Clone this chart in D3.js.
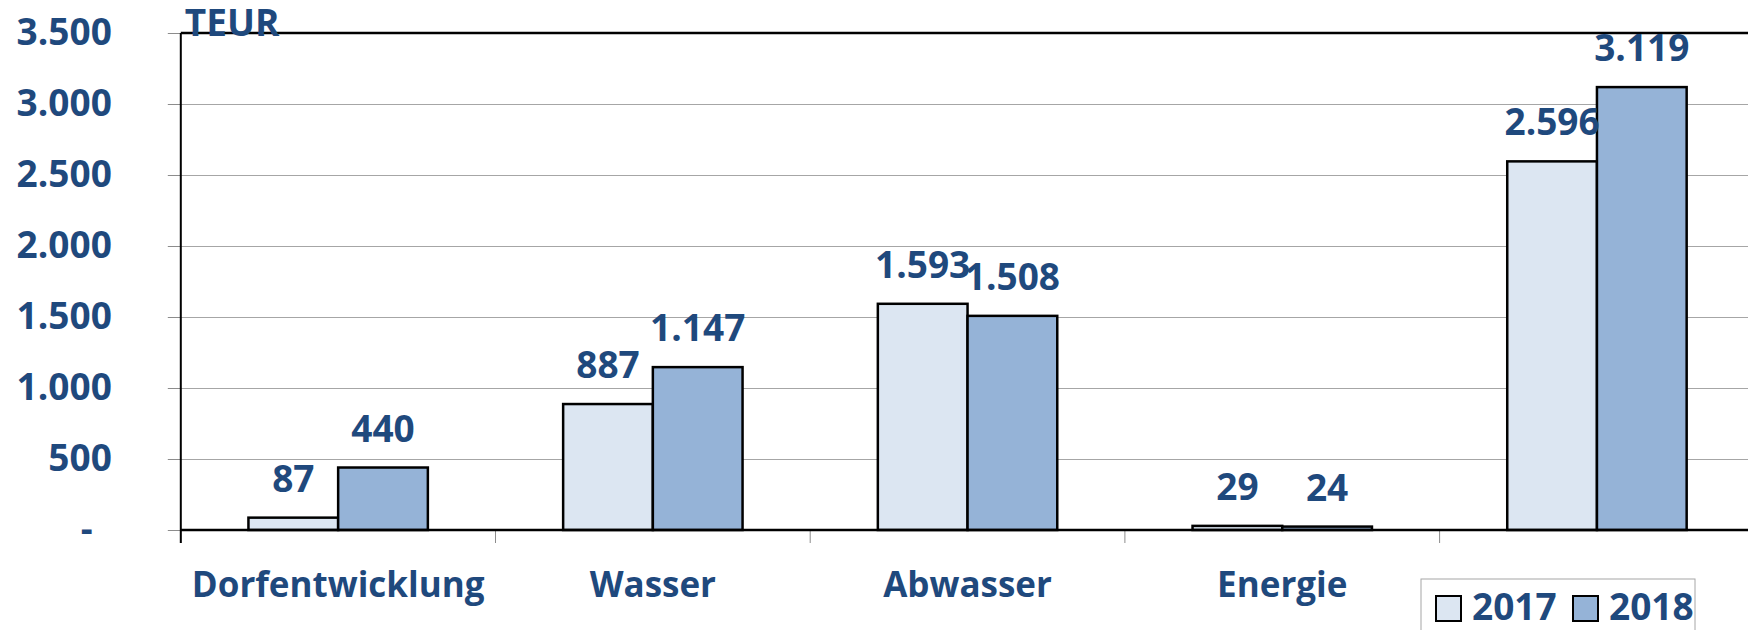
<!DOCTYPE html>
<html>
<head>
<meta charset="utf-8">
<script src="https://cdn.jsdelivr.net/npm/d3@7"></script>
<style>
  html, body { margin: 0; padding: 0; background: #fff; }
  svg { display: block; }
  text { font-family: "Open Sans", "Noto Sans", sans-serif; font-weight: 700; fill: #1F497D; }
</style>
</head>
<body>
<svg id="chart" width="1748" height="630"></svg>
<script>
// ---- data ----
const categories = ["Dorfentwicklung", "Wasser", "Abwasser", "Energie", ""];
const series = ["2017", "2018"];
const values2017 = [87, 887, 1593, 29, 2596];
const values2018 = [440, 1147, 1508, 24, 3119];
const yTicks = [0, 500, 1000, 1500, 2000, 2500, 3000, 3500];
const unitLabel = "TEUR";

(function () {
// ---- layout ----
const plotLeft = 180.8, plotRight = 1754.3, plotTop = 33, plotBottom = 530;
const colors = { "2017": "#DCE6F2", "2018": "#95B3D7" };
const textColor = "#1F497D";
const fontSize = 37;

const de = d3.formatLocale({ decimal: ",", thousands: ".", grouping: [3], currency: ["", " €"] });
const fmt = de.format(",d");

const svg = d3.select("#chart");

const x = d3.scaleBand().domain(categories).range([plotLeft, plotRight]).paddingInner(0).paddingOuter(0);
const xs = d3.scaleBand().domain(series).range([0, x.bandwidth()]).paddingInner(0).paddingOuter(0.754);
const y = d3.scaleLinear().domain([0, 3500]).range([plotBottom, plotTop]);

const rows = categories.map((c, i) => ({ cat: c, vals: [
  { s: "2017", v: values2017[i] },
  { s: "2018", v: values2018[i] }
]}));

// gridlines
svg.append("g")
  .attr("transform", `translate(${plotLeft},0)`)
  .call(d3.axisLeft(y).tickValues(yTicks).tickSize(-(plotRight - plotLeft)).tickFormat(""))
  .call(g => g.select(".domain").remove())
  .call(g => g.selectAll(".tick line").attr("stroke", "#A6A6A6").attr("stroke-width", 1));

// y axis with ticks and labels
const yAxis = svg.append("g")
  .attr("transform", `translate(${plotLeft},0)`)
  .call(d3.axisLeft(y).tickValues(yTicks).tickSize(13).tickPadding(56).tickSizeOuter(0)
    .tickFormat(d => d === 0 ? "-\u00a0\u00a0" : fmt(d)));
yAxis.select(".domain").remove();
yAxis.selectAll(".tick line").attr("stroke", "#8C8C8C").attr("stroke-width", 1);
yAxis.selectAll(".tick text")
  .attr("fill", textColor)
  .style("font-size", fontSize + "px")
  .style("font-family", '"Open Sans", "Noto Sans", sans-serif')
  .style("font-weight", 700);

// top border of plot area
svg.append("line")
  .attr("x1", plotLeft).attr("x2", plotRight)
  .attr("y1", y(3500)).attr("y2", y(3500))
  .attr("stroke", "#000").attr("stroke-width", 2.5);

// category boundary tick marks
svg.append("g").selectAll("line")
  .data(categories)
  .join("line")
  .attr("x1", d => x(d)).attr("x2", d => x(d))
  .attr("y1", plotBottom).attr("y2", plotBottom + 13)
  .attr("stroke", "#8C8C8C").attr("stroke-width", 1);

// bars
const groups = svg.append("g").selectAll("g")
  .data(rows)
  .join("g")
  .attr("transform", d => `translate(${x(d.cat)},0)`);

groups.selectAll("rect")
  .data(d => d.vals)
  .join("rect")
  .attr("x", d => xs(d.s))
  .attr("width", xs.bandwidth())
  .attr("y", d => y(d.v))
  .attr("height", d => y(0) - y(d.v))
  .attr("fill", d => colors[d.s])
  .attr("stroke", "#000")
  .attr("stroke-width", 2.5);

// value labels
groups.selectAll("text.val")
  .data(d => d.vals)
  .join("text")
  .attr("class", "val")
  .attr("x", d => xs(d.s) + xs.bandwidth() / 2)
  .attr("y", d => y(d.v) - 26)
  .attr("text-anchor", "middle")
  .style("font-size", fontSize + "px")
  .text(d => fmt(d.v));

// left axis line
svg.append("line")
  .attr("x1", plotLeft).attr("x2", plotLeft)
  .attr("y1", y(3500)).attr("y2", plotBottom + 13)
  .attr("stroke", "#000").attr("stroke-width", 2);

// baseline
svg.append("line")
  .attr("x1", plotLeft).attr("x2", plotRight)
  .attr("y1", y(0)).attr("y2", y(0))
  .attr("stroke", "#000").attr("stroke-width", 2.5);

// unit label
svg.append("text")
  .attr("x", plotLeft + 4)
  .attr("y", 36)
  .style("font-size", fontSize + "px")
  .text(unitLabel);

// category labels
svg.append("g").selectAll("text")
  .data(categories)
  .join("text")
  .attr("x", d => x(d) + x.bandwidth() / 2)
  .attr("y", 597)
  .attr("text-anchor", "middle")
  .style("font-size", "35px")
  .text(d => d);

// legend
const lg = svg.append("g").attr("transform", "translate(1421,579)");
lg.append("rect")
  .attr("x", 0).attr("y", 0).attr("width", 274).attr("height", 70)
  .attr("fill", "#fff").attr("stroke", "#A6A6A6").attr("stroke-width", 1);
const items = lg.selectAll("g.item")
  .data(series)
  .join("g")
  .attr("class", "item")
  .attr("transform", (d, i) => `translate(${15 + i * 137},17)`);
items.append("rect")
  .attr("width", 25).attr("height", 25)
  .attr("fill", d => colors[d])
  .attr("stroke", "#000").attr("stroke-width", 2);
items.append("text")
  .attr("x", 36).attr("y", 24)
  .style("font-size", fontSize + "px")
  .text(d => d);
})();
</script>
</body>
</html>
